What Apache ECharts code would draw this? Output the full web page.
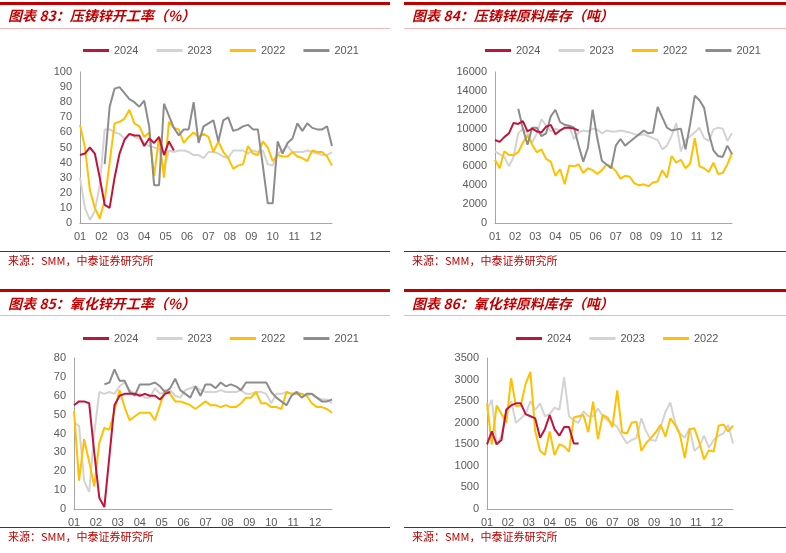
<!DOCTYPE html>
<html><head><meta charset="utf-8">
<script src="https://cdn.jsdelivr.net/npm/echarts@6/dist/echarts.min.js"></script>
<style>html,body{margin:0;padding:0;background:#fff}#c{width:786px;height:553px}</style>
</head><body><div id="c"></div>
<script>
const years=['2024','2023','2022','2021'];
const colors={'2024':'#C0143C','2023':'#D3D3D3','2022':'#FFC000','2021':'#8C8C8C'};
const zs={'2024':5,'2023':2,'2022':3,'2021':4};
const monthLabels=['01','02','03','04','05','06','07','08','09','10','11','12'];
const titles=['图表 83：压铸锌开工率（%）','图表 84：压铸锌原料库存（吨）','图表 85：氧化锌开工率（%）','图表 86：氧化锌原料库存（吨）'];
const source='来源：SMM，中泰证券研究所';
const N=null;
// Panel 1: 压铸锌开工率
const p1_2024=[45,46,50,46,30,12,10,30,46,55,59,58,58,51,56,53,57,45,54,48];
const p1_2023=[30,10,2,8,25,62,62,60,59,56,59,57,56,53,51,50,49,35,48,47,48,48,47,45,45,43,47,47,46,44,43,48,48,48,46,48,47,48,39,38,46,48,51,47,47,47,48,47,46,45,45,47];
const p1_2022=[65,50,22,10,3,15,40,66,67,69,75,66,64,57,60,31,57,30,67,63,62,53,57,60,57,59,57,47,54,47,43,36,38,39,51,46,45,54,50,41,45,44,44,47,44,43,41,48,47,47,44,38];
const p1_2021=[N,N,N,N,N,39,77,89,90,86,82,80,77,81,64,25,25,79,71,63,58,62,62,80,53,64,66,68,54,68,70,61,62,64,65,62,62,38,13,13,54,46,53,56,66,61,66,63,62,62,64,51];
// Panel 2: 压铸锌原料库存
const p2_2024=[8800,8600,9100,9500,10600,10500,10800,9700,10000,9700,9600,10200,10400,9400,9800,10100,10100,10000,9800];
const p2_2023=[7600,7300,7000,6000,7000,9500,10000,9500,8500,9500,11000,10300,9700,10000,9800,10000,10200,8900,9600,9800,9700,10000,9900,9500,9800,9700,9700,9800,9700,9600,9400,9300,9400,9200,9000,8800,7800,8200,9200,10600,7600,8800,9200,9600,10100,9000,8700,9900,10100,10000,8700,9500];
const p2_2022=[6700,5800,7600,7200,7200,7500,8500,9300,8300,7500,7800,6800,6500,5000,5700,4100,6100,6000,6200,5300,5800,5600,5200,5600,6200,6000,5500,4700,5000,4900,4200,4000,4100,3900,4300,4400,5600,4800,7100,6400,6700,5800,6300,9000,6000,5800,5400,6400,5200,5300,6200,7400];
const p2_2021=[N,N,N,N,N,12100,10000,8300,10100,10100,9200,9500,11300,12000,10700,10400,10300,10100,8200,6500,8000,12000,9000,6600,6200,5800,8200,8900,8200,8600,9000,9400,9800,9500,9600,12300,11200,10100,9800,9900,10000,7800,10500,13500,13000,12200,9500,7700,7100,7000,8200,7300];
// Panel 3: 氧化锌开工率
const p3_2024=[55,57,57,56,30,6,1,28,55,60,61,61,61,60,61,60,60,58,61,62];
const p3_2023=[46,44,15,9,40,62,61,62,61,65,67,63,61,61,59,59,64,61,62,63,60,59,63,64,65,63,62,62,62,63,62,62,62,63,61,61,62,62,61,56,61,61,62,61,62,61,60,61,59,58,58,56];
const p3_2022=[52,15,37,25,12,35,43,42,52,63,54,47,49,51,51,51,47,55,63,61,57,57,56,55,53,55,57,55,55,54,55,54,54,56,59,59,62,56,56,54,54,53,62,61,61,61,60,56,54,54,53,51];
const p3_2021=[N,N,N,N,N,N,66,67,74,68,68,62,60,66,66,66,67,65,62,64,69,63,61,59,65,60,66,66,64,67,65,66,65,63,67,67,67,67,67,62,59,57,55,60,62,59,61,61,59,57,57,58];
// Panel 4: 氧化锌原料库存
const p4_2024=[1500,1800,1500,1600,2300,2400,2450,2450,2200,2150,2100,1650,1850,2180,1850,1700,1900,1900,1520,1520];
const p4_2023=[2300,2530,1500,1700,2300,2500,2000,2100,2200,2500,2300,2450,2150,2200,2350,2300,3050,2150,2050,2000,2270,2150,2150,2330,2150,2050,2000,1900,1700,1520,1600,1650,2100,1800,1600,1580,1900,2250,2470,2000,1750,1650,1870,1350,1450,1700,1420,1600,1700,1750,1950,1520];
const p4_2022=[2450,1500,2400,2200,2000,3030,2380,2400,2900,3180,1800,1350,1250,1800,1250,1500,1450,1330,2120,2150,2180,1780,2490,1620,2180,2120,1900,2750,1780,1750,2000,2020,1350,1530,1650,1780,1950,1680,2100,1950,1720,1180,1850,1870,1550,1150,1360,1330,1930,1960,1800,1930];

const panels=[
 {data:{'2024':p1_2024,'2023':p1_2023,'2022':p1_2022,'2021':p1_2021},max:100,interval:10,grid:{left:80,top:72,width:252,height:151},ox:0,oy:0,lx:78},
 {data:{'2024':p2_2024,'2023':p2_2023,'2022':p2_2022,'2021':p2_2021},max:16000,interval:2000,grid:{left:495,top:72,width:237,height:151},ox:404,oy:0,lx:480},
 {data:{'2024':p3_2024,'2023':p3_2023,'2022':p3_2022,'2021':p3_2021},max:80,interval:10,grid:{left:74,top:358,width:258,height:151},ox:0,oy:276,lx:78},
 {data:{'2024':p4_2024,'2023':p4_2023,'2022':p4_2022},max:3500,interval:500,grid:{left:487,top:358,width:246,height:151},ox:404,oy:276,lx:511}
];
const W=52/12;
const option={animation:false,grid:[],xAxis:[],yAxis:[],series:[],legend:[],title:[],graphic:[]};
panels.forEach((p,i)=>{
  const pw=i%2===0?390:382;
  option.grid.push(p.grid);
  option.xAxis.push({type:'value',gridIndex:i,min:0,max:51,interval:W,
    axisLine:{lineStyle:{color:'#A6A6A6'}},axisTick:{show:false},splitLine:{show:false},
    axisLabel:{color:'#595959',fontSize:11,fontFamily:'Liberation Sans',showMaxLabel:false,formatter:v=>monthLabels[Math.round(v/W)]||''}});
  option.yAxis.push({type:'value',gridIndex:i,min:0,max:p.max,interval:p.interval,
    axisLine:{show:true,lineStyle:{color:'#A6A6A6'}},axisTick:{show:false},splitLine:{show:false},
    axisLabel:{color:'#595959',fontSize:11,fontFamily:'Liberation Sans',formatter:v=>String(v)}});
  const names=years.filter(y=>p.data[y]);
  names.forEach(y=>{
    option.series.push({name:y,type:'line',xAxisIndex:i,yAxisIndex:i,symbol:'none',connectNulls:false,z:zs[y],
      lineStyle:{width:2,color:colors[y]},itemStyle:{color:colors[y]},
      data:p.data[y].map((v,k)=>[k,v])});
  });
  option.legend.push({data:names,left:p.lx,top:p.oy+(i<2?40:52),itemWidth:26,itemHeight:3,itemGap:18,icon:'rect',
    textStyle:{color:'#595959',fontSize:11,fontFamily:'Liberation Sans'}});
  option.title.push({text:titles[i],left:p.ox+8,top:p.oy+(i<2?9:21),padding:0,
    textStyle:{color:'#C00000',fontSize:14,fontWeight:'bold',fontStyle:'italic',fontFamily:'Noto Sans CJK SC'}});
  const barY=p.oy+(i<2?2:13), lineY=p.oy+(i<2?28:39);
  option.graphic.push({type:'rect',shape:{x:p.ox,y:barY,width:pw,height:3},style:{fill:'#C00000'}});
  option.graphic.push({type:'rect',shape:{x:p.ox,y:lineY,width:pw,height:1},style:{fill:'#F2B8B8'}});
  option.graphic.push({type:'rect',shape:{x:p.ox,y:p.oy+251,width:pw,height:1},style:{fill:'#C00000'}});
  option.graphic.push({type:'text',left:p.ox+8,top:p.oy+255,style:{text:source,fill:'#C00000',font:'11px "Noto Sans CJK SC"'}});
});
echarts.init(document.getElementById('c')).setOption(option);
</script></body></html>
